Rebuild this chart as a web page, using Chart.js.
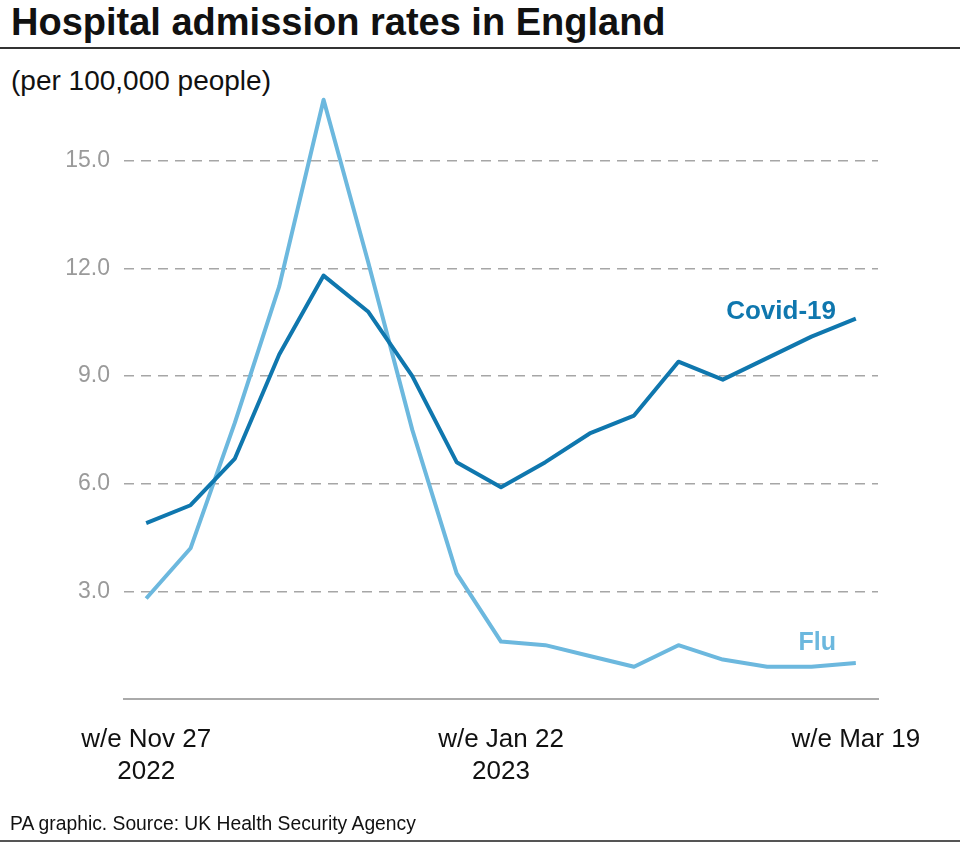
<!DOCTYPE html>
<html>
<head>
<meta charset="utf-8">
<script src="https://cdn.jsdelivr.net/npm/chart.js@4"></script>
<style>
  html, body { margin: 0; padding: 0; background: #fff; }
  body { width: 960px; height: 843px; position: relative; overflow: hidden; font-family: "Liberation Sans", Arial, sans-serif; }
  #title { position: absolute; left: 11px; top: 0px; font-size: 38px; font-weight: bold; color: #111; letter-spacing: 0px; line-height: 44px; white-space: nowrap; }
  #rule1 { position: absolute; left: 0; top: 47px; width: 960px; height: 2px; background: #333; }
  #sub { position: absolute; left: 11px; top: 64px; font-size: 28px; color: #111; line-height: 34px; white-space: nowrap; }
  #foot { position: absolute; left: 10px; top: 813px; font-size: 19.3px; color: #111; line-height: 22px; white-space: nowrap; }
  #rule2 { position: absolute; left: 0; top: 840px; width: 960px; height: 2px; background: #555; }
  .lab { position: absolute; font-weight: bold; white-space: nowrap; line-height: 30px; }
  #labCovid { right: 124px; top: 295px; font-size: 26px; color: #0f77ae; }
  #labFlu { right: 124px; top: 626px; font-size: 25px; color: #6cb8de; }
  #c { position: absolute; left: 0; top: 0; }
</style>
</head>
<body>
<div id="title">Hospital admission rates in England</div>
<div id="rule1"></div>
<div id="sub">(per 100,000 people)</div>
<canvas id="c" width="960" height="843"></canvas>
<div class="lab" id="labCovid">Covid-19</div>
<div class="lab" id="labFlu">Flu</div>
<div id="foot">PA graphic. Source: UK Health Security Agency</div>
<div id="rule2"></div>
<script>
// Weeks ending (weekly, 2022-11-27 to 2023-03-19)
const weeks = ['2022-11-27','2022-12-04','2022-12-11','2022-12-18','2022-12-25','2023-01-01','2023-01-08','2023-01-15','2023-01-22','2023-01-29','2023-02-05','2023-02-12','2023-02-19','2023-02-26','2023-03-05','2023-03-12','2023-03-19'];
const covid = [4.9, 5.4, 6.7, 9.6, 11.8, 10.8, 9.0, 6.6, 5.9, 6.6, 7.4, 7.9, 9.4, 8.9, 9.5, 10.1, 10.6];
const flu   = [2.8, 4.2, 7.7, 11.5, 16.7, 12.2, 7.5, 3.5, 1.6, 1.5, 1.2, 0.9, 1.5, 1.1, 0.9, 0.9, 1.0];
const xTickLabels = { '2022-11-27': ['w/e Nov 27', '2022'], '2023-01-22': ['w/e Jan 22', '2023'], '2023-03-19': ['w/e Mar 19'] };
const yTicks = [3, 6, 9, 12, 15];

new Chart(document.getElementById('c'), {
  type: 'line',
  data: {
    labels: weeks,
    datasets: [
      { label: 'Covid-19', data: covid, borderColor: '#0f77ae', borderWidth: 4, pointRadius: 0, tension: 0, borderJoinStyle: 'round', borderCapStyle: 'butt' },
      { label: 'Flu', data: flu, borderColor: '#6cb8de', borderWidth: 4, pointRadius: 0, tension: 0, borderJoinStyle: 'round', borderCapStyle: 'butt' }
    ]
  },
  options: {
    responsive: false,
    animation: false,
    layout: { padding: { left: 0, right: 82, top: 89, bottom: 0 } },
    plugins: { legend: { display: false }, tooltip: { enabled: false }, title: { display: false } },
    scales: {
      x: {
        type: 'category',
        offset: true,
        grid: { display: false, drawTicks: false },
        border: { display: true, color: '#aaaaaa', width: 2 },
        ticks: {
          autoSkip: false,
          maxRotation: 0,
          padding: 25,
          color: '#111',
          font: { family: 'Liberation Sans', size: 26, lineHeight: 1.23 },
          callback: function(v, i) { const k = weeks[i]; return xTickLabels[k] || ''; }
        },
        afterFit(scale) { scale.height = 144; }
      },
      y: {
        min: 0, max: 17,
        grid: { color: '#a6a6a6', lineWidth: 1.5, drawTicks: false },
        border: { display: false, dash: [10, 7] },
        ticks: {
          padding: 14,
          color: '#9a9a9a',
          font: { family: 'Liberation Sans', size: 23 },
          callback: v => v.toFixed(1)
        },
        afterBuildTicks(scale) { scale.ticks = yTicks.map(v => ({ value: v })); },
        afterFit(scale) { scale.width = 124; }
      }
    }
  }
});
</script>
</body>
</html>
